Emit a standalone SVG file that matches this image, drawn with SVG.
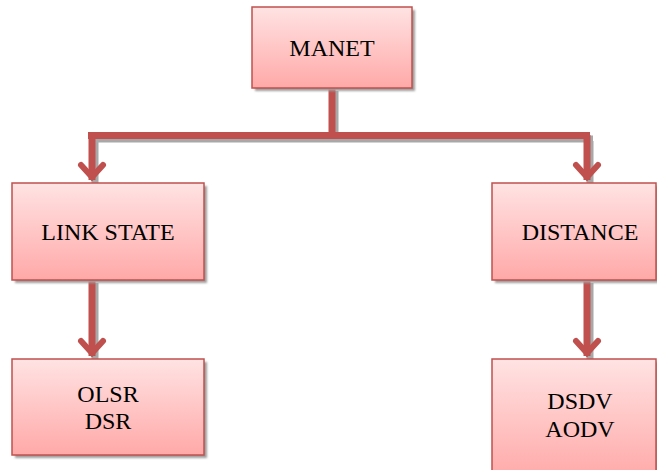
<svg xmlns="http://www.w3.org/2000/svg" width="657" height="470" viewBox="0 0 657 470">
<defs>
<linearGradient id="g" x1="0" y1="0" x2="0" y2="1">
<stop offset="0" stop-color="#FFE3E3"/>
<stop offset="1" stop-color="#FFA9A8"/>
</linearGradient>
<filter id="sh" x="-10%" y="-10%" width="130%" height="130%">
<feGaussianBlur stdDeviation="0.8"/>
</filter>
</defs>
<style>
.box{fill:url(#g);stroke:#C0504D;stroke-width:1.5}
.shadow{fill:#9E9E9E;filter:url(#sh)}
text{font-family:'Liberation Serif','Times New Roman',Times,serif;font-size:24px;fill:#000;text-anchor:middle}
.con{fill:none;stroke:#C0504D;stroke-width:7}
.conSh{fill:none;stroke:#A8A8A8;stroke-width:7}
.head{fill:none;stroke:#C0504D;stroke-width:6;stroke-linecap:round;stroke-linejoin:miter}
</style>
<g id="connectors">
<path class="conSh" d="M335 91 V138 M91 139 H593 M95 141 V184 M590 141 V184 M95 283 V360 M590 283 V360"/>
<path class="con" d="M332 88 V135 M88 135.5 H590 M92 135 V180 M587 135 V180 M92 280 V356 M587 280 V356"/>
<path class="head" d="M81 165 L92 177 L103 165 M576 165 L587 177 L598 165 M81 341 L92 353 L103 341 M576 341 L587 353 L598 341"/>
</g>
<g id="manet">
<rect class="shadow" x="255" y="10" width="160" height="81"/>
<rect class="box" x="252" y="7" width="160" height="81"/>
<text x="332" y="56" font-family="Liberation Serif, serif">MANET</text>
</g>
<g id="linkstate">
<rect class="shadow" x="15" y="186" width="192" height="97"/>
<rect class="box" x="12" y="183" width="192" height="97"/>
<text x="108" y="240" font-family="Liberation Serif, serif">LINK STATE</text>
</g>
<g id="distance">
<rect class="shadow" x="495" y="186" width="164" height="97"/>
<rect class="box" x="492" y="183" width="164" height="97"/>
<text x="580" y="240" font-family="Liberation Serif, serif">DISTANCE</text>
</g>
<g id="olsr">
<rect class="shadow" x="15" y="362" width="192" height="96"/>
<rect class="box" x="12" y="359" width="192" height="96"/>
<text x="108" y="402" font-family="Liberation Serif, serif">OLSR</text>
<text x="108" y="429" font-family="Liberation Serif, serif">DSR</text>
</g>
<g id="dsdv">
<rect class="shadow" x="495" y="362" width="164" height="120"/>
<rect class="box" x="492" y="359" width="164" height="120"/>
<text x="580" y="409" font-family="Liberation Serif, serif">DSDV</text>
<text x="580" y="437" font-family="Liberation Serif, serif">AODV</text>
</g>
</svg>
